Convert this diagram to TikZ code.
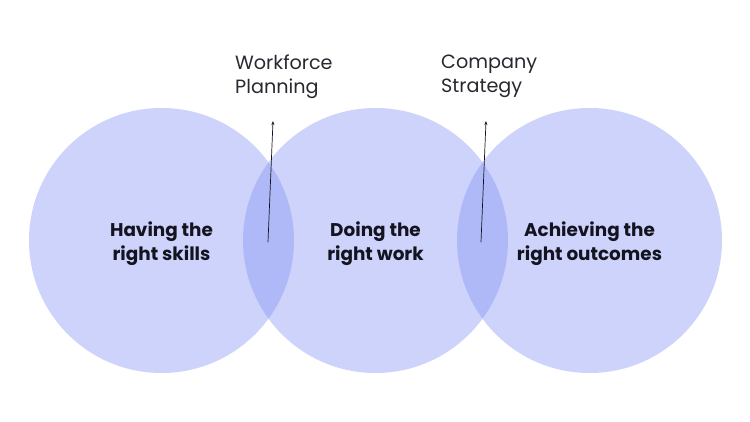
\documentclass[tikz,border=0pt]{standalone}
\usepackage{fontspec}
\setmainfont{Poppins}
\usetikzlibrary{arrows.meta}
\definecolor{vennblue}{RGB}{136,150,243}
\definecolor{inkdark}{RGB}{20,20,32}
\definecolor{labelgray}{RGB}{40,40,48}
\begin{document}
\begin{tikzpicture}[x=1pt,y=-1pt,line cap=round,line join=round,>={Stealth[length=4pt,width=3pt]},
  venn/.style={circle,minimum size=265pt,inner sep=0pt,fill=vennblue,fill opacity=0.42},
  venntext/.style={align=center,text=inkdark,yshift=-3pt,font=\fontsize{18.4}{24}\selectfont\bfseries},
  sidelabel/.style={anchor=north west,align=left,text=labelgray,inner sep=0pt,font=\fontsize{19.2}{24}\selectfont}]
      \useasboundingbox (0,0) rectangle (750,422);
      \node[venn] (skills) at (161.5,240.5) {};
      \node[venn] (work) at (375.5,240.5) {};
      \node[venn] (outcomes) at (589.5,240.5) {};
      \node[venntext] (skillstext) at (skills) {Having the\\right skills};
      \node[venntext] (worktext) at (work) {Doing the\\right work};
      \node[venntext] (outcomestext) at (outcomes) {Achieving the\\right outcomes};
      \node[sidelabel] (planning) at (235,54.5) {Workforce\\Planning};
      \node[sidelabel] (strategy) at (441,54.5) {Company\\Strategy};
      \coordinate (planbase) at (268,242);
      \coordinate (plantip) at (273,121);
      \coordinate (stratbase) at (481,242);
      \coordinate (strattip) at (486,121);
      \draw[->,color=inkdark,line width=0.7pt] (planbase) -- (plantip);
      \draw[->,color=inkdark,line width=0.7pt] (stratbase) -- (strattip);
\end{tikzpicture}
\end{document}
